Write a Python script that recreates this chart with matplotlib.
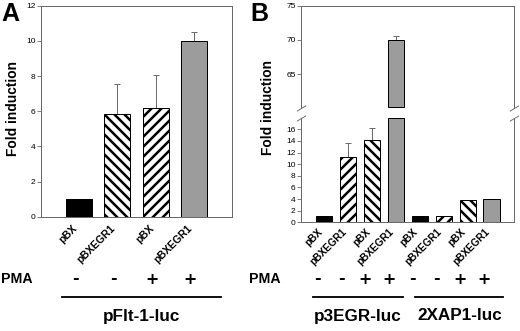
import numpy as np
import matplotlib
matplotlib.use('Agg')
import matplotlib.pyplot as plt
from matplotlib.transforms import blended_transform_factory

plt.rcParams['font.family'] = 'Liberation Sans'
plt.rcParams['hatch.linewidth'] = 3.0

# ---- data ----
labels_a = ['pBX', 'pBXEGR1', 'pBX', 'pBXEGR1']
values_a = [1.0, 5.85, 6.2, 10.0]
errors_a = [0.0, 1.7, 1.85, 0.5]
pma_a = ['-', '-', '+', '+']
group_a = ['pFlt-1-luc']

labels_b = ['pBX', 'pBXEGR1', 'pBX', 'pBXEGR1', 'pBX', 'pBXEGR1', 'pBX', 'pBXEGR1']
values_b = [1.0, 11.3, 14.2, 70.0, 1.0, 1.1, 3.9, 4.0]
errors_b = [0.0, 2.3, 2.1, 0.5, 0.0, 0.0, 0.0, 0.0]
pma_b = ['-', '-', '+', '+', '-', '-', '+', '+']
group_b = ['p3EGR-luc', '2XAP1-luc']

# bar styles
fill_a = ['black', 'white', 'white', '#9c9c9c']
hatch_a = [None, '\\\\', '//', None]
fill_b = ['black', 'white', 'white', '#9c9c9c', 'black', 'white', 'white', '#9c9c9c']
hatch_b = [None, '//', '\\\\', None, None, '//', '\\\\', None]

SPINE = '#6a6a6a'
W, H = 520, 331
DPI = 60

fig = plt.figure(figsize=(W / DPI, H / DPI), dpi=DPI)


def px_box(left, top, right, bottom):
    return [left / W, 1 - bottom / H, (right - left) / W, (bottom - top) / H]


def style_axis(ax):
    for s in ax.spines.values():
        s.set_color(SPINE)
        s.set_linewidth(1.2)
    ax.tick_params(axis='y', direction='out', length=4.5, width=1.0, color=SPINE,
                   labelsize=10, pad=2)
    ax.tick_params(axis='x', length=0)


def draw_bars(ax, x, heights, bottoms, fills, hatches):
    for xi, h, b, f, ht in zip(x, heights, bottoms, fills, hatches):
        ax.bar(xi, h, bottom=b, width=0.68, color=f, edgecolor='black',
               linewidth=1.2, hatch=ht, zorder=2)


def draw_err(ax, x, vals, errs):
    for xi, v, e in zip(x, vals, errs):
        if e > 0:
            ax.errorbar(xi, v, yerr=[[0], [e]], fmt='none', ecolor='#606060',
                        elinewidth=1.1, capsize=3.5, capthick=1.1, zorder=1)


# ---- panel A ----
ax_a = fig.add_axes(px_box(41, 5.7, 232, 216.7))
xa = np.arange(len(values_a))
draw_bars(ax_a, xa, values_a, [0] * len(values_a), fill_a, hatch_a)
draw_err(ax_a, xa, values_a, errors_a)
ax_a.set_xlim(-1, 4)
ax_a.set_ylim(0, 12)
ax_a.set_yticks(np.arange(0, 13, 2))
ax_a.set_xticks(xa)
ax_a.set_xticklabels(labels_a, rotation=45, ha='right', fontsize=12.5,
                     fontweight='bold')
style_axis(ax_a)
ax_a.tick_params(axis='x', pad=8)

# ---- panel B (broken axis) ----
low_top, up_bot = 18, 60
ax_bu = fig.add_axes(px_box(301, 5.7, 514, 108.3))
ax_bl = fig.add_axes(px_box(301, 117.7, 514, 222.3))
xb = np.arange(len(values_b))

vb = np.array(values_b)
draw_bars(ax_bl, xb, np.minimum(vb, low_top - 0.08), [0] * len(vb), fill_b, hatch_b)
big = vb > low_top
draw_bars(ax_bu, xb[big], vb[big] - (up_bot + 0.15), [up_bot + 0.15] * big.sum(),
          np.array(fill_b, dtype=object)[big], np.array(hatch_b, dtype=object)[big])

eb = np.array(errors_b)
draw_err(ax_bl, xb[~big], vb[~big], eb[~big])
draw_err(ax_bu, xb[big], vb[big], eb[big])

for ax in (ax_bu, ax_bl):
    ax.set_xlim(-0.975, 7.94)
    style_axis(ax)
ax_bl.set_ylim(0, low_top)
ax_bl.set_yticks(np.arange(0, 17, 2))
ax_bu.set_ylim(up_bot, 75)
ax_bu.set_yticks([65, 70, 75])
ax_bu.spines['bottom'].set_visible(False)
ax_bl.spines['top'].set_visible(False)
ax_bu.set_xticks([])
ax_bl.set_xticks(xb)
ax_bl.set_xticklabels(labels_b, rotation=45, ha='right', fontsize=12,
                      fontweight='bold')
ax_bl.tick_params(axis='x', pad=5)

# break marks
mk = dict(marker=[(-1, -0.6), (1, 0.6)], markersize=11, linestyle='none',
          color=SPINE, mec=SPINE, mew=1.1, clip_on=False)
ax_bu.plot([0, 1], [0, 0], transform=ax_bu.transAxes, **mk)
ax_bl.plot([0, 1], [1, 1], transform=ax_bl.transAxes, **mk)

# ---- labels below the axes ----
y_pma = 1 - 279 / H
y_line = 1 - 297 / H
y_group = 1 - 316 / H
txt_kw = dict(va='center', fontsize=17, fontweight='bold')
sign_kw = dict(ha='center', va='center', fontsize=19, fontweight='bold',
               family='DejaVu Sans')

fig.text(1 / W, y_pma, 'PMA', ha='left', **txt_kw)
fig.text(249 / W, y_pma, 'PMA', ha='left', **txt_kw)

tr_a = blended_transform_factory(ax_a.transData, fig.transFigure)
tr_b = blended_transform_factory(ax_bl.transData, fig.transFigure)
for xi, s in zip(xa, pma_a):
    fig.text(xi - 0.1, y_pma, s, transform=tr_a, **sign_kw)
for xi, s in zip(xb, pma_b):
    fig.text(xi - 0.3, y_pma, s, transform=tr_b, **sign_kw)

spans_a = [(-0.45, 3.72)]
spans_b = [(-0.47, 3.3), (3.8, 7.5)]
for tr, spans, names in ((tr_a, spans_a, group_a), (tr_b, spans_b, group_b)):
    for (x0, x1), name in zip(spans, names):
        fig.add_artist(plt.Line2D([x0, x1], [y_line, y_line], transform=tr,
                                  color='black', linewidth=2.2))
        fig.text((x0 + x1) / 2, y_group, name, transform=tr, ha='center',
                 va='center', fontsize=20.5, fontweight='bold')

# axis titles and panel letters
fig.text(13.5 / W, 1 - 109 / H, 'Fold induction', rotation=90, ha='center',
         va='center', fontsize=16.5, fontweight='bold')
fig.text(268 / W, 1 - 108 / H, 'Fold induction', rotation=90, ha='center',
         va='center', fontsize=16.5, fontweight='bold')
fig.text(1 / W, 1 - 2 / H, 'A', ha='left', va='top', fontsize=30, fontweight='bold')
fig.text(250 / W, 1 - 2 / H, 'B', ha='left', va='top', fontsize=30, fontweight='bold')

fig.savefig('out.png', dpi=DPI)
